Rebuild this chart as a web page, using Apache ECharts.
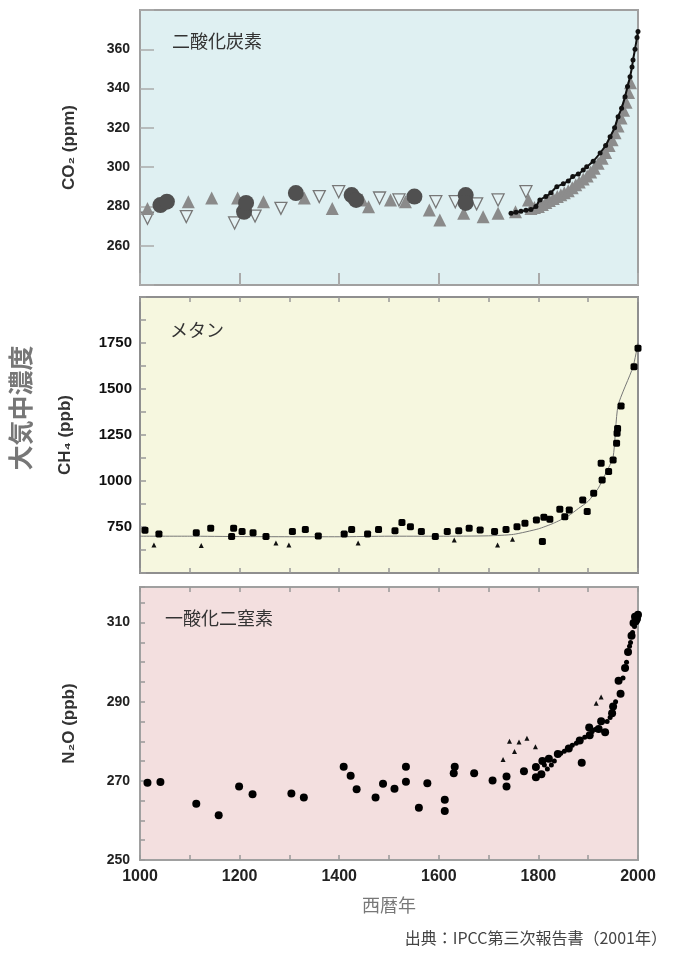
<!DOCTYPE html>
<html>
<head>
<meta charset="utf-8">
<script src="https://cdn.jsdelivr.net/npm/echarts@6/dist/echarts.min.js"></script>
<style>
html,body{margin:0;padding:0;background:#fff;}
#c{width:673px;height:953px;}
</style>
</head>
<body>
<div id="c"></div>
<script>
// ---- X axis ----
const xTickLabels = [1000, 1200, 1400, 1600, 1800, 2000];

// ---- CO2 (ppm) ----
const co2CircleYears = [1041, 1054, 1209, 1213, 1313, 1425, 1434, 1551, 1654, 1654];
const co2CircleVals  = [280.7, 282.4, 277.3, 281.8, 286.8, 285.8, 283.3, 285.0, 285.8, 281.8];
const co2TriYears = [1015, 1097, 1144, 1196, 1248, 1330, 1386, 1446, 1459, 1503, 1533, 1581, 1602, 1650, 1689, 1719, 1754, 1780];
const co2TriVals  = [279.0, 282.4, 284.3, 284.3, 282.4, 284.3, 279.0, 283.3, 279.9, 283.3, 282.4, 278.2, 273.1, 276.5, 274.8, 276.5, 277.3, 283.3];
const co2OpenYears = [1015, 1093, 1190, 1231, 1283, 1360, 1399, 1481, 1520, 1594, 1633, 1676, 1719, 1775];
const co2OpenVals  = [274.0, 274.8, 271.6, 275.1, 279.0, 285.0, 287.5, 284.3, 283.3, 282.4, 282.4, 281.3, 283.3, 287.5];
const co2BandYears = [1785, 1792, 1800, 1808, 1815, 1822, 1830, 1838, 1845, 1852, 1860, 1868, 1875, 1882, 1890, 1898, 1905, 1912, 1920, 1928, 1935, 1942, 1948, 1954, 1960, 1966, 1971, 1976, 1981, 1985];
const co2BandVals  = [279.0, 279.5, 280.0, 281.0, 282.0, 283.0, 284.0, 285.0, 286.0, 287.0, 288.0, 289.5, 291.0, 292.5, 294.0, 295.5, 297.5, 299.5, 302.0, 304.5, 307.5, 311.0, 314.0, 317.5, 321.0, 325.0, 329.0, 333.0, 338.0, 343.0];
const co2BlackYears = [1745, 1755, 1765, 1775, 1785, 1795, 1803, 1815, 1825, 1837, 1850, 1860, 1869, 1880, 1890, 1897, 1910, 1924, 1935, 1944, 1953, 1960, 1967, 1974, 1979, 1984, 1988, 1990, 1994, 1998, 2000];
const co2BlackVals  = [276.5, 277.0, 277.5, 278.0, 278.5, 280.0, 283.3, 285.0, 287.0, 290.0, 291.5, 293.0, 295.2, 296.5, 298.5, 300.2, 303.0, 307.2, 311.0, 315.5, 320.0, 325.7, 330.0, 335.9, 341.0, 346.0, 351.0, 354.6, 360.0, 366.0, 369.0];
const co2TickLabels = [260, 280, 300, 320, 340, 360];

// ---- CH4 (ppb) ----
const ch4DotYears = [1010, 1038, 1113, 1142, 1184, 1188, 1205, 1227, 1253, 1306, 1332, 1358, 1410, 1425, 1457, 1479, 1512, 1526, 1543, 1565, 1593, 1617, 1640, 1661, 1683, 1712, 1735, 1757, 1773, 1796, 1808, 1811, 1823, 1843, 1853, 1862, 1889, 1898, 1911, 1926, 1928, 1941, 1950, 1957, 1958, 1959, 1966, 1992, 2000];
const ch4DotVals  = [733, 712, 719, 743, 698, 743, 725, 719, 698, 725, 737, 701, 712, 737, 712, 737, 730, 774, 752, 725, 698, 725, 730, 743, 734, 725, 737, 752, 770, 788, 671, 803, 792, 846, 806, 842, 897, 834, 933, 1096, 1005, 1051, 1114, 1205, 1259, 1286, 1408, 1621, 1721];
const ch4TriYears = [1028, 1123, 1273, 1299, 1438, 1631, 1718, 1748];
const ch4TriVals  = [652, 649, 663, 652, 663, 679, 652, 683];
const ch4LineYears = [1000, 1100, 1200, 1300, 1400, 1500, 1600, 1700, 1750, 1800, 1830, 1860, 1880, 1900, 1920, 1935, 1950, 1960, 1990, 2000];
const ch4LineVals  = [700, 700, 698, 697, 697, 700, 700, 702, 710, 740, 770, 810, 850, 890, 960, 1040, 1130, 1410, 1620, 1750];
const ch4TickLabels = [750, 1000, 1250, 1500, 1750];

// ---- N2O (ppb) ----
const n2oDotYears = [1015, 1041, 1113, 1158, 1199, 1226, 1304, 1329, 1409, 1423, 1435, 1473, 1488, 1511, 1534, 1534, 1560, 1577, 1612, 1612, 1632, 1630, 1671, 1708, 1736, 1736, 1771, 1795, 1795, 1806, 1808, 1821, 1839, 1861, 1887, 1883, 1903, 1902, 1921, 1926, 1934, 1948, 1950, 1961, 1965, 1974, 1980, 1987, 1991, 1994, 1996, 1998, 2000];
const n2oDotVals  = [269.5, 269.7, 264.2, 261.3, 268.6, 266.6, 266.8, 265.8, 273.6, 271.3, 267.9, 265.8, 269.3, 268.0, 273.6, 269.8, 263.2, 269.4, 265.2, 262.4, 273.6, 271.9, 271.9, 270.1, 271.1, 268.6, 272.4, 273.5, 270.9, 271.7, 275.0, 275.6, 276.8, 278.2, 274.6, 280.2, 281.5, 283.5, 283.1, 285.1, 282.3, 287.1, 288.8, 295.3, 292.0, 298.5, 302.6, 306.7, 309.9, 311.5, 310.5, 311.0, 312.0];
const n2oSmallYears = [1812, 1818, 1826, 1832, 1845, 1852, 1868, 1876, 1893, 1908, 1914, 1938, 1944, 1955, 1970, 1977, 1983, 1985, 1989, 1993, 1997, 1999];
const n2oSmallVals  = [274.0, 273.0, 274.0, 275.0, 277.0, 277.5, 279.0, 279.5, 281.0, 282.5, 283.0, 285.0, 286.0, 290.0, 296.0, 300.0, 304.0, 305.0, 307.5, 309.0, 310.0, 311.5];
const n2oTriYears = [1729, 1742, 1752, 1761, 1777, 1794, 1916, 1926];
const n2oTriVals  = [275.4, 280.0, 277.4, 279.8, 280.8, 278.6, 289.6, 291.2];
const n2oTickLabels = [250, 270, 290, 310];

function pairs(xs, ys) { return xs.map((x, i) => [x, ys[i]]); }

const chart = echarts.init(document.getElementById('c'), null, {renderer: 'canvas'});
const FONT = '"Liberation Sans", "DejaVu Sans", sans-serif';
const CJK = '"Noto Sans CJK JP", sans-serif';
const BORDER = '#a0a0a0';

const grids = [
  {left: 140, right: 35, top: 10, height: 275, show: true, backgroundColor: '#dff0f2', borderColor: BORDER, borderWidth: 2},
  {left: 140, right: 35, top: 297, height: 276, show: true, backgroundColor: '#f6f7df', borderColor: '#8f8f8f', borderWidth: 2},
  {left: 140, right: 35, top: 587, height: 273, show: true, backgroundColor: '#f3dfdf', borderColor: BORDER, borderWidth: 2}
];

function xAx(gi, opts) {
  return Object.assign({
    type: 'value', gridIndex: gi, min: 1000, max: 2000, interval: 100,
    axisLine: {show: false}, splitLine: {show: false},
    axisTick: {show: true, inside: true, length: 5, lineStyle: {color: '#999', width: 1.5}},
    axisLabel: {show: false}
  }, opts);
}

const nameStyle = {color: '#333', fontSize: 17, fontWeight: 'bold', fontFamily: FONT};

const option = {
  animation: false,
  backgroundColor: '#ffffff',
  grid: grids,
  xAxis: [
    xAx(0, {interval: 200, axisTick: {show: true, inside: true, length: 12, lineStyle: {color: '#aaa', width: 2}}}),
    xAx(1, {}),
    xAx(2, {
      axisLabel: {show: true, margin: 9, color: '#222', fontSize: 16, fontWeight: 'bold', fontFamily: FONT,
        formatter: v => xTickLabels.indexOf(v) >= 0 ? String(v) : ''},
      name: '西暦年', nameLocation: 'middle', nameGap: 36,
      nameTextStyle: {color: '#777', fontSize: 18, fontFamily: CJK}
    }),
    xAx(1, {position: 'top'}),
    xAx(2, {position: 'top'})
  ],
  yAxis: [
    {type: 'value', gridIndex: 0, min: 240, max: 380, interval: 20,
      axisLine: {show: false}, splitLine: {show: false},
      axisTick: {show: true, inside: true, length: 14, lineStyle: {color: '#aaa', width: 1.5}},
      axisLabel: {margin: 10, color: '#222', fontSize: 14, fontWeight: 'bold', fontFamily: FONT,
        formatter: v => co2TickLabels.indexOf(v) >= 0 ? String(v) : ''},
      name: 'CO₂ (ppm)', nameLocation: 'middle', nameGap: 62, nameTextStyle: nameStyle},
    {type: 'value', gridIndex: 1, min: 500, max: 2000, interval: 125,
      axisLine: {show: false}, splitLine: {show: false},
      axisTick: {show: true, inside: true, length: 6, lineStyle: {color: '#999', width: 1.5}},
      axisLabel: {margin: 8, color: '#111', fontSize: 15, fontWeight: 'bold', fontFamily: FONT,
        formatter: v => ch4TickLabels.indexOf(v) >= 0 ? String(v) : ''},
      name: 'CH₄ (ppb)', nameLocation: 'middle', nameGap: 66, nameTextStyle: nameStyle},
    {type: 'value', gridIndex: 2, min: 250, max: 319, interval: 5,
      axisLine: {show: false}, splitLine: {show: false},
      axisTick: {show: true, inside: true, length: 5, lineStyle: {color: '#999', width: 1.5}},
      axisLabel: {margin: 10, color: '#222', fontSize: 14, fontWeight: 'bold', fontFamily: FONT,
        formatter: v => n2oTickLabels.indexOf(v) >= 0 ? String(v) : ''},
      name: 'N₂O (ppb)', nameLocation: 'middle', nameGap: 62, nameTextStyle: nameStyle}
  ],
  graphic: [
    {type: 'text', left: 172, top: 32, style: {text: '二酸化炭素', fill: '#333', font: '18px "Noto Sans CJK JP"'}},
    {type: 'text', left: 170, top: 321, style: {text: 'メタン', fill: '#333', font: '18px "Noto Sans CJK JP"'}},
    {type: 'text', left: 165, top: 609, style: {text: '一酸化二窒素', fill: '#333', font: '18px "Noto Sans CJK JP"'}},
    {type: 'text', x: 20, y: 408, rotation: Math.PI / 2,
      style: {text: '大気中濃度', fill: '#777', font: 'bold 25px "Noto Sans CJK JP"', align: 'center', verticalAlign: 'middle'}},
    {type: 'text', right: 6, top: 930, style: {text: '出典：IPCC第三次報告書（2001年）', fill: '#444', font: '16px "Noto Sans CJK JP"'}}
  ],
  series: [
    // CO2
    {type: 'scatter', xAxisIndex: 0, yAxisIndex: 0, data: pairs(co2OpenYears, co2OpenVals),
      symbol: 'triangle', symbolRotate: 180, symbolSize: 12,
      itemStyle: {color: '#e4f2f4', borderColor: '#777', borderWidth: 1.3, opacity: 1}, z: 2},
    {type: 'scatter', xAxisIndex: 0, yAxisIndex: 0, data: pairs(co2TriYears, co2TriVals),
      symbol: 'triangle', symbolSize: 13, itemStyle: {color: '#8a8a8a', opacity: 1}, z: 3},
    {type: 'scatter', xAxisIndex: 0, yAxisIndex: 0, data: pairs(co2CircleYears, co2CircleVals),
      symbol: 'circle', symbolSize: 16, itemStyle: {color: '#505050', opacity: 1}, z: 4},
    {type: 'scatter', xAxisIndex: 0, yAxisIndex: 0, data: pairs(co2BandYears, co2BandVals),
      symbol: 'triangle', symbolSize: 13, itemStyle: {color: '#8c8c8c', opacity: 1}, z: 3},
    {type: 'line', xAxisIndex: 0, yAxisIndex: 0, data: pairs(co2BlackYears, co2BlackVals),
      symbol: 'circle', symbolSize: 5, showSymbol: true, smooth: 0.3,
      lineStyle: {color: '#111', width: 2}, itemStyle: {color: '#111', opacity: 1}, z: 5},
    // CH4
    {type: 'line', xAxisIndex: 1, yAxisIndex: 1, data: pairs(ch4LineYears, ch4LineVals),
      showSymbol: false, smooth: 0.2, lineStyle: {color: '#777', width: 1}, z: 2},
    {type: 'scatter', xAxisIndex: 1, yAxisIndex: 1, data: pairs(ch4TriYears, ch4TriVals),
      symbol: 'triangle', symbolSize: 5, itemStyle: {color: '#111', opacity: 1}, z: 3},
    {type: 'scatter', xAxisIndex: 1, yAxisIndex: 1, data: pairs(ch4DotYears, ch4DotVals),
      symbol: 'roundRect', symbolSize: 7, itemStyle: {color: '#000', opacity: 1}, z: 4},
    // N2O
    {type: 'scatter', xAxisIndex: 2, yAxisIndex: 2, data: pairs(n2oTriYears, n2oTriVals),
      symbol: 'triangle', symbolSize: 5, itemStyle: {color: '#111', opacity: 1}, z: 3},
    {type: 'scatter', xAxisIndex: 2, yAxisIndex: 2, data: pairs(n2oSmallYears, n2oSmallVals),
      symbol: 'circle', symbolSize: 5, itemStyle: {color: '#000', opacity: 1}, z: 3},
    {type: 'scatter', xAxisIndex: 2, yAxisIndex: 2, data: pairs(n2oDotYears, n2oDotVals),
      symbol: 'circle', symbolSize: 8, itemStyle: {color: '#000', opacity: 1}, z: 4}
  ]
};
chart.setOption(option);
</script>
</body>
</html>
